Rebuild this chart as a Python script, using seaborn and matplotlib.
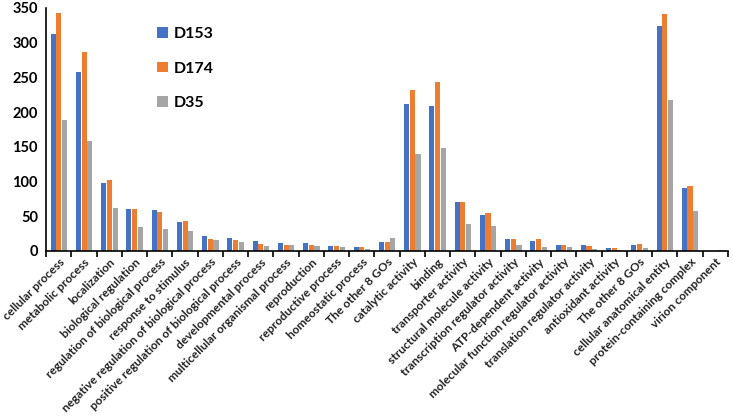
import matplotlib
matplotlib.use("Agg")
import matplotlib.pyplot as plt
import seaborn as sns
import pandas as pd
import numpy as np

categories = [
    "cellular process", "metabolic process", "localization", "biological regulation",
    "regulation of biological process", "response to stimulus",
    "negative regulation of biological process", "positive regulation of biological process",
    "developmental process", "multicellular organismal process", "reproduction",
    "reproductive process", "homeostatic process", "The other 8 GOs",
    "catalytic activity", "binding", "transporter activity", "structural molecule activity",
    "transcription regulator activity", "ATP-dependent activity",
    "molecular function regulator activity", "translation regulator activity",
    "antioxidant activity", "The other 8 GOs",
    "cellular anatomical entity", "protein-containing complex", "virion component",
]
d153 = [313, 258, 98, 60, 59, 41, 21, 18, 14, 12, 11, 7, 6, 13,
        211, 209, 71, 52, 17, 14, 9, 8, 4, 8,
        324, 91, 0]
d174 = [343, 286, 102, 60, 56, 43, 17, 15, 10, 9, 9, 7, 6, 13,
        232, 243, 70, 54, 17, 17, 9, 7, 4, 10,
        341, 93, 0.5]
d35 = [189, 158, 62, 35, 32, 28, 15, 13, 7, 8, 7, 5, 3, 18,
       140, 148, 39, 36, 8, 6, 5, 2, 1.5, 4,
       218, 57, 1]
series = ["D153", "D174", "D35"]
colors = ["#4472C4", "#ED7D31", "#A5A5A5"]

n = len(categories)
df = pd.DataFrame({
    "pos": list(range(n)) * 3,
    "value": d153 + d174 + d35,
    "sample": [s for s in series for _ in range(n)],
})

plt.rcParams['font.family'] = ['Lato', 'DejaVu Sans']
fig = plt.figure(figsize=(7.33, 4.16), dpi=100)
ax = fig.add_axes([0.063, 0.397, 0.930, 0.584])
sns.barplot(data=df, x="pos", y="value", hue="sample", hue_order=series,
            palette=colors, width=0.68, gap=0.12, ax=ax, saturation=1)

ax.set_xlim(-0.5, n - 0.5)
ax.set_ylim(0, 350)
ax.set_yticks(range(0, 351, 50))
ax.set_xticks(range(n))
ax.set_xticklabels(categories, rotation=45, ha="right", rotation_mode="anchor",
                   fontsize=8.6, fontweight="bold", color="#222222")
ax.set_xticks(np.arange(-0.5, n, 1), minor=True)
ax.tick_params(axis="x", which="major", length=0, pad=4)
ax.tick_params(axis="x", which="minor", length=4, width=1.2, direction="out")
ax.tick_params(axis="y", length=0, labelsize=10.5, pad=6)
for t in ax.get_yticklabels():
    t.set_fontweight("bold")
ax.set_xlabel("")
ax.set_ylabel("")
sns.despine(ax=ax)
ax.spines["left"].set_linewidth(1.2)
ax.spines["bottom"].set_linewidth(1.2)

leg = ax.legend(loc="upper left", bbox_to_anchor=(0.163, 0.922), frameon=False,
                borderaxespad=0, borderpad=0,
                handlelength=0.65, handleheight=0.65, handletextpad=0.4,
                labelspacing=1.3, prop={"weight": "bold", "size": 11.5})

fig.savefig("out.png", dpi=100)
